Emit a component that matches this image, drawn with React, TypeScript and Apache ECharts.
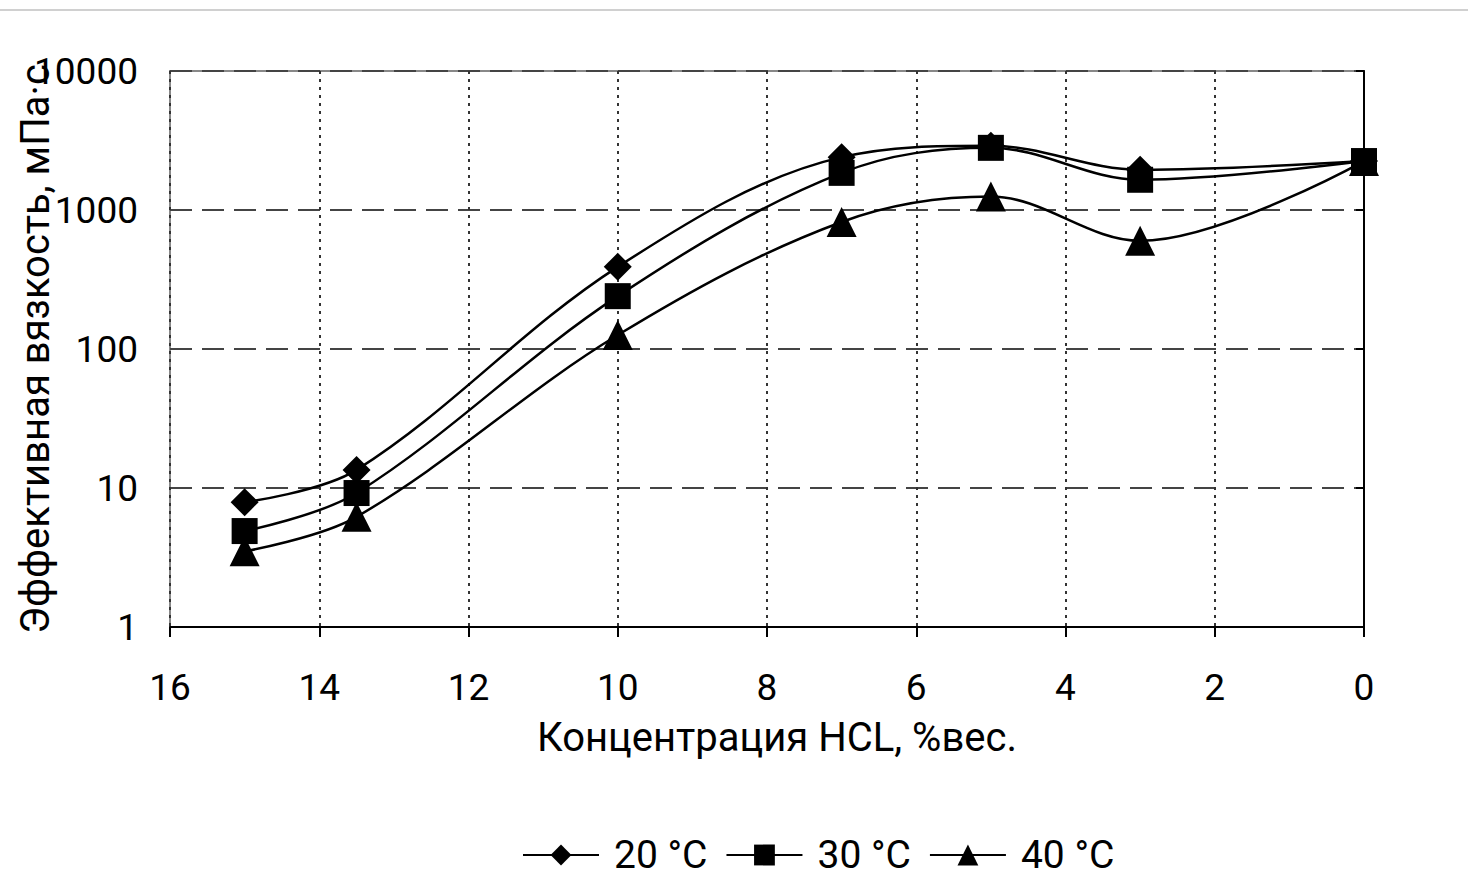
import React, { useEffect, useRef } from "react";
import * as echarts from "echarts";

const concentrations = [15, 13.5, 10, 7, 5, 3, 0];
const visc20 = [7.9, 13.5, 390, 2400, 2900, 1950, 2250];
const visc30 = [4.9, 9.2, 240, 1850, 2800, 1650, 2250];
const visc40 = [3.5, 6.2, 126, 820, 1250, 600, 2250];
const seriesNames = ["20 °C", "30 °C", "40 °C"];
const symbols = ["diamond", "rect", "triangle"];
const xTitle = "Концентрация HCL, %вес.";
const yTitle = "Эффективная вязкость, мПа·с";

const FONT = "Roboto, Arial, sans-serif";

export default function App() {
  const ref = useRef<HTMLDivElement>(null);
  useEffect(() => {
    if (!ref.current) return;
    const chart = echarts.init(ref.current, undefined, { renderer: "svg" });
    const data = [visc20, visc30, visc40];
    const sizes = [28, 26, 30];
    chart.setOption({
      animation: false,
      backgroundColor: "#fff",
      textStyle: { fontFamily: FONT },
      graphic: [
        {
          type: "line",
          shape: { x1: 0, y1: 10, x2: 1468, y2: 10 },
          style: { stroke: "#d0d0d0", lineWidth: 2 },
        },
      ],
      grid: {
        left: 170,
        right: 104,
        top: 71,
        bottom: 250,
        containLabel: false,
        outerBoundsMode: "none",
        show: true,
        borderColor: "#888",
        borderWidth: 2,
      },
      legend: {
        top: 835,
        left: 522,
        padding: 0,
        itemWidth: 76,
        itemHeight: 26,
        itemGap: 18,
        textStyle: {
          fontSize: 39,
          lineHeight: 40,
          color: "#000",
          fontFamily: FONT,
          padding: [0, 0, 0, 10],
        },
        data: seriesNames,
      },
      xAxis: {
        type: "value",
        inverse: true,
        min: 0,
        max: 16,
        interval: 2,
        name: xTitle,
        nameLocation: "middle",
        nameGap: 90,
        nameMoveOverlap: false,
        nameTextStyle: { fontSize: 40, color: "#000", fontFamily: FONT, padding: [0, 0, 0, 20] },
        axisLine: { show: true, onZero: false, lineStyle: { color: "#000", width: 2 } },
        axisTick: { show: true, length: 10, lineStyle: { color: "#000", width: 2 } },
        axisLabel: { fontSize: 37, color: "#000", margin: 42, fontFamily: FONT },
        splitLine: { show: true, lineStyle: { color: "#333", type: [3, 5], width: 2 } },
      },
      yAxis: {
        type: "log",
        logBase: 10,
        min: 1,
        max: 10000,
        name: yTitle,
        nameLocation: "middle",
        nameGap: 115,
        nameMoveOverlap: false,
        nameTextStyle: { fontSize: 40, color: "#000", fontFamily: FONT },
        axisLine: { show: true, lineStyle: { color: "#000", width: 2 } },
        axisTick: { show: true, length: 8, lineStyle: { color: "#000", width: 2 } },
        axisLabel: {
          fontSize: 37,
          color: "#000",
          margin: 32,
          fontFamily: FONT,
          formatter: (v: number) => String(Math.round(v)),
        },
        splitLine: { show: true, lineStyle: { color: "#444", type: [22, 10], width: 2 } },
      },
      series: data.map((d, i) => ({
        name: seriesNames[i],
        type: "line",
        smooth: 0.35,
        symbol: symbols[i],
        symbolSize: sizes[i],
        lineStyle: { color: "#000", width: 2.5 },
        itemStyle: { color: "#000" },
        data: concentrations.map((c, j) => [c, d[j]]),
      })),
    });
    return () => chart.dispose();
  }, []);
  return (
    <div
      ref={ref}
      style={{ position: "fixed", left: 0, top: 0, width: 1468, height: 877 }}
    />
  );
}
